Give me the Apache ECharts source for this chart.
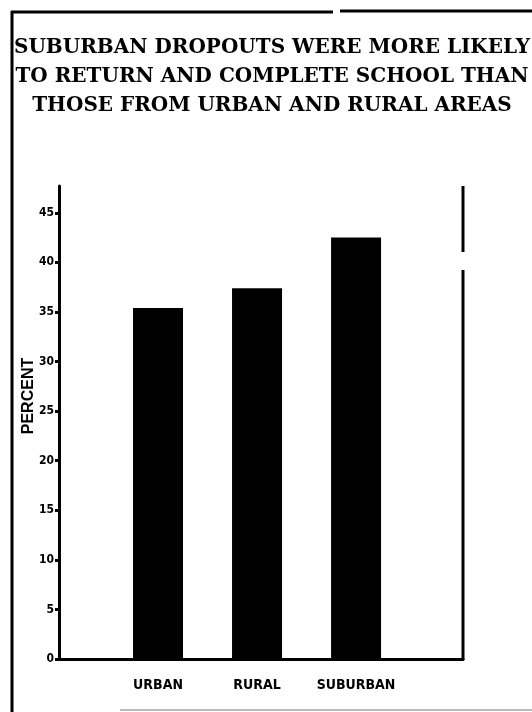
<!DOCTYPE html>
<html>
<head>
<meta charset="utf-8">
<style>
  html, body { margin: 0; padding: 0; background: #fff; }
  #chart { width: 532px; height: 712px; }
</style>
<script src="https://cdn.jsdelivr.net/npm/echarts@6/dist/echarts.min.js"></script>
</head>
<body>
<div id="chart"></div>
<script>
// ---- data ----
const titleLines = [
  'SUBURBAN DROPOUTS WERE MORE LIKELY',
  'TO RETURN AND COMPLETE SCHOOL THAN',
  'THOSE FROM URBAN AND RURAL AREAS'
];
const categories = ['URBAN', 'RURAL', 'SUBURBAN'];
const percentValues = [35.4, 37.4, 42.5];
const yTickValues = [0, 5, 10, 15, 20, 25, 30, 35, 40, 45];
const yAxisName = 'PERCENT';

// category positions on the x scale (1-based slots)
const slots = categories.map((c, i) => i + 1);
const barData = percentValues.map((v, i) => [slots[i], v]);

const chart = echarts.init(document.getElementById('chart'), null, { renderer: 'canvas' });

const titleFont = '"DejaVu Serif", "Liberation Serif", serif';
const narrowFont = '"Liberation Sans Narrow", "DejaVu Sans Condensed", "Liberation Sans", sans-serif';

const option = {
  backgroundColor: '#ffffff',
  animation: false,
  grid: { left: 59, right: 69, top: 186, bottom: 53, containLabel: false },
  xAxis: {
    type: 'value',
    min: 0,
    max: 4.08,
    splitLine: { show: false },
    axisLine: { show: true, onZero: false, lineStyle: { color: '#000', width: 3 } },
    axisTick: { show: false },
    axisLabel: {
      customValues: slots,
      formatter: v => categories[Math.round(v) - 1] || '',
      color: '#000',
      fontFamily: narrowFont,
      fontWeight: 'bold',
      fontSize: 14,
      margin: 19
    }
  },
  yAxis: [{
    type: 'value',
    min: 0,
    max: 47.7,
    splitLine: { show: false },
    axisLine: { show: true, lineStyle: { color: '#000', width: 3 } },
    axisTick: { show: true, customValues: yTickValues, inside: false, length: 4, lineStyle: { color: '#000', width: 3 } },
    axisLabel: {
      customValues: yTickValues,
      color: '#000',
      fontFamily: narrowFont,
      fontWeight: 'bold',
      fontSize: 12,
      margin: 5
    }
  }],
  series: [{
    type: 'bar',
    data: barData,
    barWidth: 50,
    itemStyle: { color: '#000' }
  }],
  graphic: [
    // title lines
    ...titleLines.map((t, i) => ({
      type: 'text',
      x: 272,
      y: 48 + i * 29,
      style: {
        text: t,
        fill: '#000',
        font: 'bold 20px ' + titleFont,
        align: 'center',
        verticalAlign: 'middle'
      }
    })),
    // y axis name
    {
      type: 'text',
      x: 29, y: 396,
      rotation: Math.PI / 2,
      style: {
        text: yAxisName,
        fill: '#000',
        font: 'bold 16px "Liberation Sans", Arial, sans-serif',
        align: 'center',
        verticalAlign: 'middle'
      }
    },
    // outer frame (left and top, with gap in top)
    { type: 'line', shape: { x1: 12, y1: 11, x2: 12, y2: 712 }, style: { stroke: '#000', lineWidth: 3 } },
    { type: 'line', shape: { x1: 11, y1: 12, x2: 333, y2: 12 }, style: { stroke: '#000', lineWidth: 3 } },
    { type: 'line', shape: { x1: 340, y1: 11, x2: 532, y2: 11 }, style: { stroke: '#000', lineWidth: 3 } },
    // plot right border (with small break)
    { type: 'line', shape: { x1: 463, y1: 186, x2: 463, y2: 252 }, style: { stroke: '#000', lineWidth: 3 } },
    { type: 'line', shape: { x1: 463, y1: 270, x2: 463, y2: 660 }, style: { stroke: '#000', lineWidth: 3 } },
    // faint bottom edge
    { type: 'line', shape: { x1: 120, y1: 710, x2: 532, y2: 710 }, style: { stroke: '#bbb', lineWidth: 2 } }
  ]
};

chart.setOption(option);
</script>
</body>
</html>
